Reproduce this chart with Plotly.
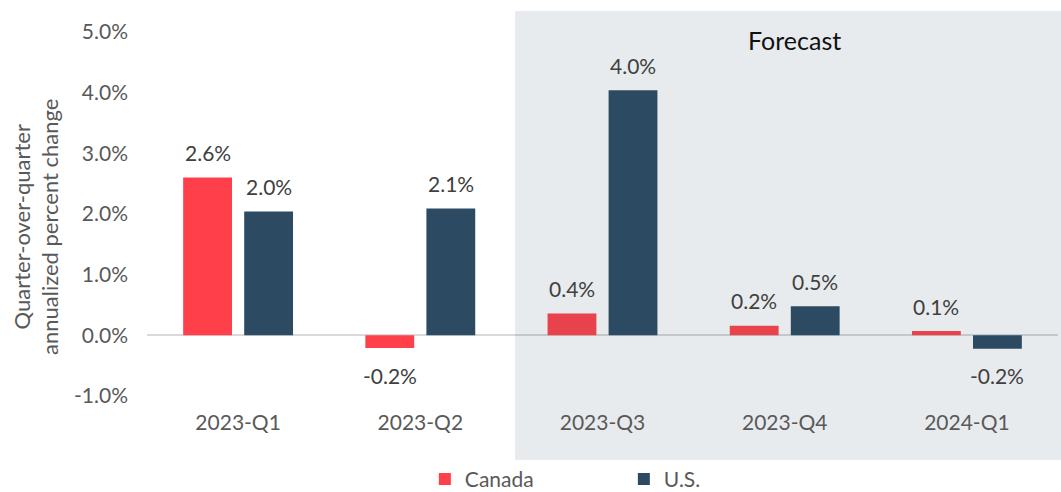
import plotly.graph_objects as go

categories = ["2023-Q1", "2023-Q2", "2023-Q3", "2023-Q4", "2024-Q1"]
canada = [2.6, -0.21, 0.36, 0.16, 0.07]
us = [2.04, 2.09, 4.04, 0.48, -0.22]
canada_colors = ["#FF3F4A", "#FF3F4A", "#E8434D", "#E8434D", "#E8434D"]
us_color = "#2C4A62"
y_ticks = [-1, 0, 1, 2, 3, 4, 5]
y_tick_labels = [f"{v:.1f}%" for v in y_ticks]

FONT = "Lato, 'Noto Sans', sans-serif"
FS = 21

fig = go.Figure()
fig.add_trace(go.Bar(name="Canada", x=categories, y=canada,
                     marker=dict(color=canada_colors, line=dict(width=0))))
fig.add_trace(go.Bar(name="U.S.", x=categories, y=us,
                     marker=dict(color=us_color, line=dict(width=0))))

# shaded forecast region
fig.add_shape(type="rect", xref="paper", yref="paper",
              x0=0.404, x1=1.01, y0=-0.176, y1=1.058,
              fillcolor="#E8EBEE", line=dict(width=0), layer="below")

annotations = []
for c, v in zip(categories, canada):
    annotations.append(dict(x=c, y=v, xref="x", yref="y", xshift=-30.5,
                            yshift=25 if v >= 0 else -27, showarrow=False,
                            xanchor="center", yanchor="middle",
                            text=f"{v:.1f}%", font=dict(size=FS, color="#404040", family=FONT)))
for c, v in zip(categories, us):
    annotations.append(dict(x=c, y=v, xref="x", yref="y", xshift=30.5,
                            yshift=25 if v >= 0 else -27, showarrow=False,
                            xanchor="center", yanchor="middle",
                            text=f"{v:.1f}%", font=dict(size=FS, color="#404040", family=FONT)))
annotations.append(dict(x=0.711, y=0.978, xref="paper", yref="paper", showarrow=False,
                        xanchor="center", yanchor="middle",
                        text="Forecast", font=dict(size=25, color="#111111", family=FONT)))
annotations.append(dict(x=-0.122, y=0.464, xref="paper", yref="paper", showarrow=False,
                        xanchor="center", yanchor="middle", textangle=-90,
                        text="Quarter-over-quarter<br>annualized percent change",
                        font=dict(size=22, color="#595959", family=FONT)))

fig.update_layout(
    width=1061, height=492,
    margin=dict(l=147, r=3, t=32, b=96, autoexpand=False),
    paper_bgcolor="white", plot_bgcolor="rgba(0,0,0,0)",
    barmode="group", bargap=0.33, bargroupgap=0.2,
    font=dict(family=FONT, size=FS, color="#595959"),
    showlegend=True,
    legend=dict(orientation="h", x=0.305, xanchor="left", y=-0.285, yanchor="bottom",
                itemwidth=30, entrywidth=154, entrywidthmode="pixels",
                font=dict(size=FS, color="#595959"), bgcolor="rgba(0,0,0,0)"),
    annotations=annotations,
)
fig.update_xaxes(showgrid=False, showline=False, ticks="", ticklabelstandoff=12,
                 automargin=False, tickfont=dict(size=FS, color="#595959"))
fig.update_yaxes(range=[-1, 5], tickvals=y_ticks, ticktext=y_tick_labels,
                 showgrid=False, showline=False, ticks="", automargin=False,
                 zeroline=True, zerolinecolor="rgba(0,0,0,0.15)", zerolinewidth=2,
                 ticklabelstandoff=18, tickfont=dict(size=FS, color="#595959"))

fig.write_html("out.html", config={"displayModeBar": False},
               post_script="document.body.style.margin='0';document.body.style.overflow='hidden';")
